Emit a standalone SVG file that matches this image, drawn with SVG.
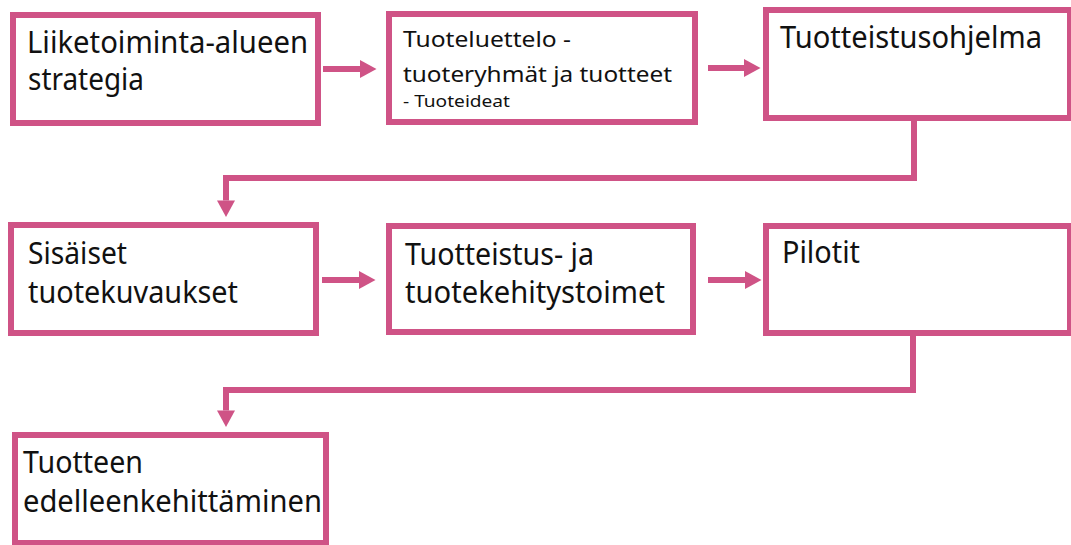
<svg xmlns="http://www.w3.org/2000/svg" width="1071" height="545" viewBox="0 0 1071 545">
  <style>
    .box { fill: #ffffff; stroke: #cf5386; stroke-width: 6; }
    .link { fill: none; stroke: #cf5386; stroke-width: 6; stroke-linejoin: miter; }
    text { font-family: "Noto Sans", "Open Sans", sans-serif; fill: #111111; }
    .big { font-size: 30px; }
    .mid { font-size: 21px; }
    .small { font-size: 16.5px; }
  </style>
  <defs>
    <marker id="head" markerUnits="userSpaceOnUse" markerWidth="17" markerHeight="18" refX="0" refY="9" orient="auto" overflow="visible">
      <path d="M0,0 L16.5,9 L0,18 Z" fill="#cf5386"/>
    </marker>
  </defs>
  <rect width="1071" height="545" fill="#ffffff"/>

  <g id="connectors">
    <line class="link" x1="323" y1="69" x2="360" y2="69" marker-end="url(#head)"/>
    <line class="link" x1="708" y1="68" x2="744" y2="68" marker-end="url(#head)"/>
    <path class="link" d="M914,118 V178 H226 V200.5" marker-end="url(#head)"/>
    <line class="link" x1="322" y1="280" x2="359" y2="280" marker-end="url(#head)"/>
    <line class="link" x1="708" y1="280" x2="745" y2="280" marker-end="url(#head)"/>
    <path class="link" d="M913,333 V390 H226 V410.5" marker-end="url(#head)"/>
  </g>

  <g id="node-strategia">
    <rect class="box" x="13" y="15" width="305" height="108"/>
    <text class="big" x="27" y="53" textLength="281" lengthAdjust="spacingAndGlyphs">Liiketoiminta-alueen</text>
    <text class="big" x="28" y="90" textLength="116" lengthAdjust="spacingAndGlyphs">strategia</text>
  </g>

  <g id="node-tuoteluettelo">
    <rect class="box" x="389" y="14" width="306" height="108"/>
    <text class="mid" x="403" y="47" textLength="168" lengthAdjust="spacingAndGlyphs">Tuoteluettelo -</text>
    <text class="mid" x="403" y="82" textLength="269" lengthAdjust="spacingAndGlyphs">tuoteryhmät ja tuotteet</text>
    <text class="small" x="403" y="107" textLength="107" lengthAdjust="spacingAndGlyphs">- Tuoteideat</text>
  </g>

  <g id="node-ohjelma">
    <rect class="box" x="766" y="10" width="304" height="108"/>
    <text class="big" x="780" y="48" textLength="262" lengthAdjust="spacingAndGlyphs">Tuotteistusohjelma</text>
  </g>

  <g id="node-kuvaukset">
    <rect class="box" x="11" y="225" width="305" height="108"/>
    <text class="big" x="28" y="264" textLength="99" lengthAdjust="spacingAndGlyphs">Sisäiset</text>
    <text class="big" x="28" y="303" textLength="210" lengthAdjust="spacingAndGlyphs">tuotekuvaukset</text>
  </g>

  <g id="node-toimet">
    <rect class="box" x="389" y="226" width="304" height="106"/>
    <text class="big" x="405" y="265" textLength="189" lengthAdjust="spacingAndGlyphs">Tuotteistus- ja</text>
    <text class="big" x="405" y="303" textLength="260" lengthAdjust="spacingAndGlyphs">tuotekehitystoimet</text>
  </g>

  <g id="node-pilotit">
    <rect class="box" x="766" y="226" width="304" height="107"/>
    <text class="big" x="782" y="263" textLength="78" lengthAdjust="spacingAndGlyphs">Pilotit</text>
  </g>

  <g id="node-kehittaminen">
    <rect class="box" x="15" y="435" width="311" height="108"/>
    <text class="big" x="23" y="473" textLength="120" lengthAdjust="spacingAndGlyphs">Tuotteen</text>
    <text class="big" x="23" y="512" textLength="299" lengthAdjust="spacingAndGlyphs">edelleenkehittäminen</text>
  </g>
</svg>
